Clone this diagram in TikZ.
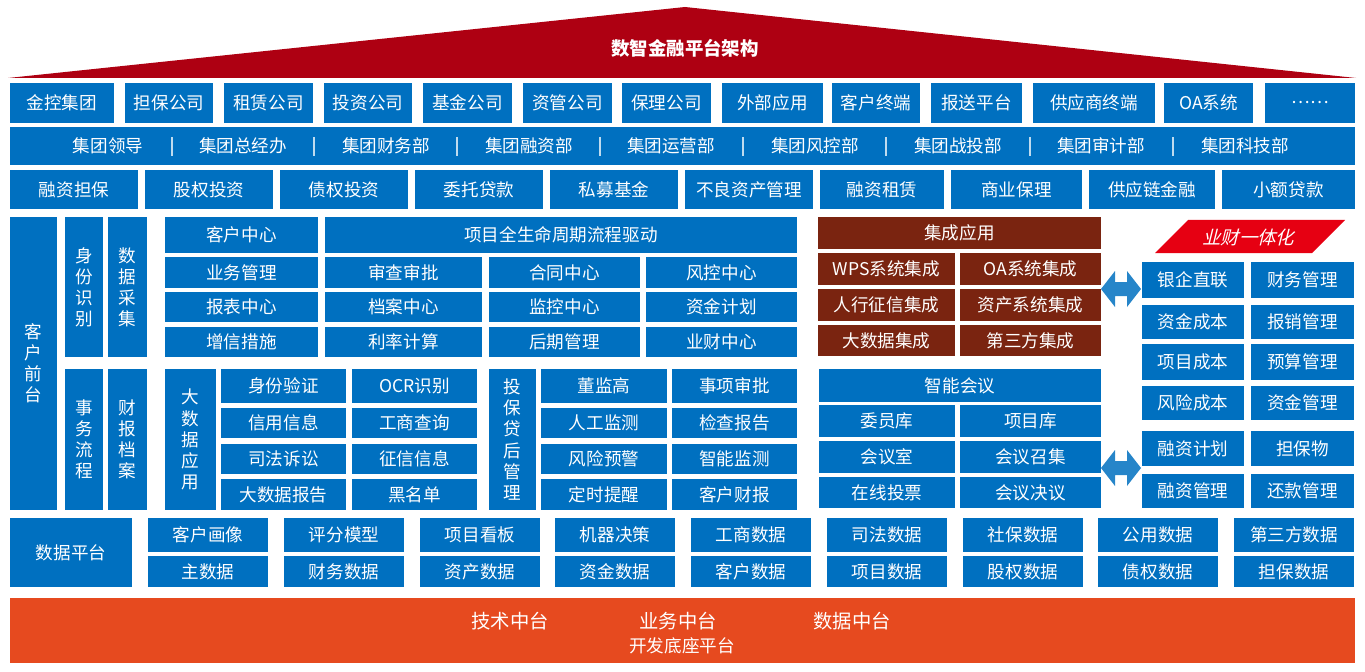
\documentclass[tikz,border=0pt]{standalone}
\usepackage{fontspec}
\setmainfont{Noto Sans CJK SC}
\definecolor{boxblue}{HTML}{0070C0}
\definecolor{boxbrown}{HTML}{7A2410}
\definecolor{roofred}{HTML}{AE0012}
\definecolor{baseorange}{HTML}{E64A1F}
\definecolor{tagred}{HTML}{E60012}
\tikzset{
    box/.style={inner sep=0pt, text=white, font=\fontsize{10}{12}\selectfont, align=center},
}
% box: [colour]{name}{x1}{y1}{x2}{y2}{text}
\newcommand{\bx}[7][boxblue]{
    \node[box, fill=#1, minimum width={(#5-#3)*0.02cm}, minimum height={(#6-#4)*0.02cm}]
        (#2) at ({(#3+#5)/2},{(#4+#6)/2}) {#7};
}
% fat double arrow centred at (x,y)
\newcommand{\fatarrow}[2]{
    \fill[boxblue!85!white] (#1-20,#2) -- (#1-6,#2-18) -- (#1-6,#2-7) -- (#1+6,#2-7) -- (#1+6,#2-18)
        -- (#1+20,#2) -- (#1+6,#2+18) -- (#1+6,#2+7) -- (#1-6,#2+7) -- (#1-6,#2+18) -- cycle;
}
\begin{document}
\begin{tikzpicture}[x=0.02cm,y=-0.02cm]
    \useasboundingbox (0,0) rectangle (1365,672);

    % roof
    \fill[roofred] (8,78) -- (685,7) -- (1356,78) -- cycle;
    \node[box, font=\fontsize{10.5}{12}\selectfont\bfseries] (title) at (685,48) {数智金融平台架构};

    % row 1
    \bx{r1a}{10}{83}{114}{123}{金控集团}
    \bx{r1b}{125}{83}{213}{123}{担保公司}
    \bx{r1c}{224}{83}{313}{123}{租赁公司}
    \bx{r1d}{324}{83}{412}{123}{投资公司}
    \bx{r1e}{423}{83}{512}{123}{基金公司}
    \bx{r1f}{523}{83}{612}{123}{资管公司}
    \bx{r1g}{622}{83}{711}{123}{保理公司}
    \bx{r1h}{722}{83}{823}{123}{外部应用}
    \bx{r1i}{832}{83}{920}{123}{客户终端}
    \bx{r1j}{931}{83}{1022}{123}{报送平台}
    \bx{r1k}{1033}{83}{1155}{123}{供应商终端}
    \bx{r1l}{1164}{83}{1253}{123}{OA系统}
    \bx{r1m}{1265}{83}{1355}{123}{……}

    % row 2
    \bx{dept}{10}{127}{1355}{165}{}
    \foreach \x/\t [count=\i] in {108/集团领导, 243/集团总经办, 386/集团财务部, 529/集团融资部, 671/集团运营部,
        815/集团风控部, 958/集团战投部, 1101/集团审计部, 1245/集团科技部}
        \node[box] (dept\i) at (\x,146) {\t};
    \foreach \x in {172, 314, 457, 600, 743, 886, 1030, 1173}
        \draw[white!75!boxblue, thick] (\x,137) -- (\x,156);

    % row 3
    \bx{biz1}{10}{170}{138}{209}{融资担保}
    \bx{biz2}{145}{170}{273}{209}{股权投资}
    \bx{biz3}{280}{170}{408}{209}{债权投资}
    \bx{biz4}{415}{170}{543}{209}{委托贷款}
    \bx{biz5}{550}{170}{678}{209}{私募基金}
    \bx{biz6}{685}{170}{813}{209}{不良资产管理}
    \bx{biz7}{820}{170}{944}{209}{融资租赁}
    \bx{biz8}{951}{170}{1082}{209}{商业保理}
    \bx{biz9}{1089}{170}{1215}{209}{供应链金融}
    \bx{biz10}{1222}{170}{1355}{209}{小额贷款}

    % front
    \bx{front}{10}{217}{57}{510}{客\\户\\前\\台}
    \bx{sfsb}{65}{217}{103}{357}{身\\份\\识\\别}
    \bx{sjcj}{108}{217}{147}{357}{数\\据\\采\\集}
    \bx{swlc}{65}{369}{103}{510}{事\\务\\流\\程}
    \bx{cbda}{108}{369}{147}{510}{财\\报\\档\\案}

    % lifecycle
    \bx{khzx}{165}{217}{318}{253}{客户中心}
    \bx{lcqd}{325}{217}{797}{253}{项目全生命周期流程驱动}
    \bx{ywgl}{165}{257}{318}{288}{业务管理}
    \bx{scsp}{325}{257}{482}{288}{审查审批}
    \bx{htzx}{489}{257}{640}{288}{合同中心}
    \bx{fkzx}{646}{257}{797}{288}{风控中心}
    \bx{bbzx}{165}{292}{318}{322}{报表中心}
    \bx{dazx}{325}{292}{482}{322}{档案中心}
    \bx{jkzx}{489}{292}{640}{322}{监控中心}
    \bx{zjjh}{646}{292}{797}{322}{资金计划}
    \bx{zxcs}{165}{327}{318}{357}{增信措施}
    \bx{lljs}{325}{327}{482}{357}{利率计算}
    \bx{hqgl}{489}{327}{640}{357}{后期管理}
    \bx{ycsz}{646}{327}{797}{357}{业财中心}

    % big data
    \bx{dsj}{165}{369}{216}{510}{大\\数\\据\\应\\用}
    \bx{sfyz}{221}{369}{346}{403}{身份验证}
    \bx{ocr}{352}{369}{477}{403}{OCR识别}
    \bx{xyxx}{221}{408}{346}{438}{信用信息}
    \bx{gscx}{352}{408}{477}{438}{工商查询}
    \bx{sfss}{221}{444}{346}{474}{司法诉讼}
    \bx{zxxx}{352}{444}{477}{474}{征信信息}
    \bx{dsjbg}{221}{479}{346}{510}{大数据报告}
    \bx{hmd}{352}{479}{477}{510}{黑名单}

    % post-loan
    \bx{tbdh}{489}{369}{536}{510}{投\\保\\贷\\后\\管\\理}
    \bx{djg}{541}{369}{667}{403}{董监高}
    \bx{sxsp}{672}{369}{797}{403}{事项审批}
    \bx{rgjc}{541}{408}{667}{438}{人工监测}
    \bx{jcbg}{672}{408}{797}{438}{检查报告}
    \bx{fxyj}{541}{444}{667}{474}{风险预警}
    \bx{znjc}{672}{444}{797}{474}{智能监测}
    \bx{dstx}{541}{479}{667}{510}{定时提醒}
    \bx{khcb}{672}{479}{797}{510}{客户财报}

    % integration
    \bx[boxbrown]{jcyy}{818}{217}{1101}{249}{集成应用}
    \bx[boxbrown]{wps}{818}{253}{955}{285}{WPS系统集成}
    \bx[boxbrown]{oajc}{960}{253}{1101}{285}{OA系统集成}
    \bx[boxbrown]{rhzx}{818}{289}{955}{321}{人行征信集成}
    \bx[boxbrown]{zcxt}{960}{289}{1101}{321}{资产系统集成}
    \bx[boxbrown]{dsjjc}{818}{325}{955}{356}{大数据集成}
    \bx[boxbrown]{dsfjc}{960}{325}{1101}{356}{第三方集成}

    % meeting
    \bx{znhy}{819}{369}{1101}{402}{智能会议}
    \bx{wyk}{819}{405}{955}{437}{委员库}
    \bx{xmk}{960}{405}{1101}{437}{项目库}
    \bx{hys}{819}{441}{955}{473}{会议室}
    \bx{hyzj}{960}{441}{1101}{473}{会议召集}
    \bx{zxtp}{819}{477}{955}{508}{在线投票}
    \bx{hyjy}{960}{477}{1101}{508}{会议决议}

    % finance integration
    \fill[tagred] (1188,220) -- (1345,220) -- (1312,253) -- (1155,253) -- cycle;
    \node[box, font=\fontsize{10.5}{12}\selectfont, xslant=0.25] (ycyt) at (1250,237) {业财一体化};
    \bx{yqzl}{1142}{262}{1244}{298}{银企直联}
    \bx{cwgl}{1251}{262}{1354}{298}{财务管理}
    \bx{zjcb}{1142}{305}{1244}{339}{资金成本}
    \bx{bxgl}{1251}{305}{1354}{339}{报销管理}
    \bx{xmcb}{1142}{344}{1244}{380}{项目成本}
    \bx{ysgl}{1251}{344}{1354}{380}{预算管理}
    \bx{fxcb}{1142}{386}{1244}{420}{风险成本}
    \bx{zjgl}{1251}{386}{1354}{420}{资金管理}
    \bx{rzjh}{1142}{431}{1244}{466}{融资计划}
    \bx{dbw}{1251}{431}{1354}{466}{担保物}
    \bx{rzgl}{1142}{474}{1244}{508}{融资管理}
    \bx{hkgl}{1251}{474}{1354}{508}{还款管理}

    % arrows
    \fatarrow{1121}{289}
    \fatarrow{1121}{468}

    % data platform
    \bx{sjpt}{10}{518}{132}{587}{数据平台}
    \foreach \x/\a/\b [count=\i] in {148/客户画像/主数据, 284/评分模型/财务数据, 420/项目看板/资产数据,
        555/机器决策/资金数据, 691/工商数据/客户数据, 827/司法数据/项目数据, 963/社保数据/股权数据,
        1098/公用数据/债权数据, 1234/第三方数据/担保数据}{
        \bx{dpa\i}{\x}{518}{\x+120}{552}{\a}
        \bx{dpb\i}{\x}{556}{\x+120}{587}{\b}
    }

    % base
    \bx[baseorange]{base}{10}{598}{1355}{663}{}
    \node[box, font=\fontsize{11}{12}\selectfont] (jszt) at (510,621) {技术中台};
    \node[box, font=\fontsize{11}{12}\selectfont] (ywzt) at (678,621) {业务中台};
    \node[box, font=\fontsize{11}{12}\selectfont] (sjzt) at (852,621) {数据中台};
    \node[box] (kfdz) at (682,646) {开发底座平台};
\end{tikzpicture}
\end{document}
